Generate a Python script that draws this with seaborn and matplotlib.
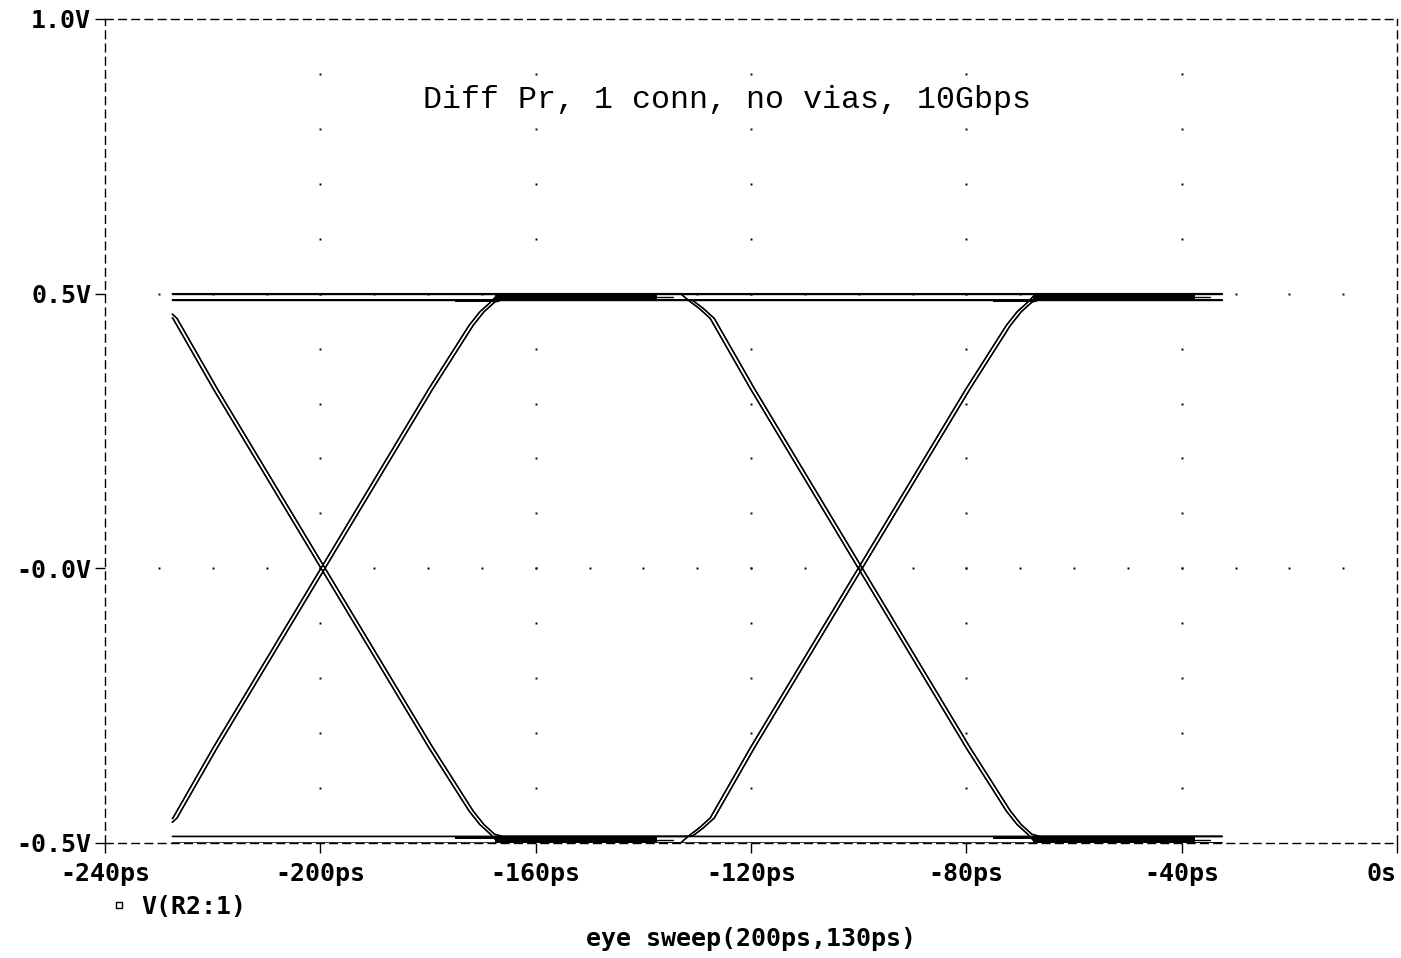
import numpy as np
import pandas as pd
import matplotlib
matplotlib.use("Agg")
import matplotlib.pyplot as plt
import seaborn as sns
from matplotlib.lines import Line2D

# Sweep window and bit timing (ps)
sweep_start = -227.5
sweep_end = -32.5
crossings = [-199.5, -99.7]

# Rising edge profile around a crossing: offset (ps) and fraction of the swing
edge_dt = [-33.0, -31.5, -29.5, -27.5, -20.0, -10.0, 0.0, 10.0, 20.0, 27.5, 29.5, 31.5, 33.0]
edge_frac = [0.000, 0.007, 0.022, 0.040, 0.170, 0.335, 0.500, 0.665, 0.830, 0.947, 0.972, 0.990, 1.000]
# Swing used along the edge itself (V)
edge_high = 0.4945
edge_low = -0.4940

# Two overlapping acquisitions: settled levels (V) and timing skew (ps)
high_levels = [0.500, 0.489]
low_levels = [-0.500, -0.488]
skews = [-0.38, 0.38]

# Bit sequences seen in the sweep (before / between / after the crossings)
patterns = ["000", "001", "010", "011", "100", "101", "110", "111"]

# Settled regions where many sweeps pile up (ps)
band_start = [-167.5, -67.6]
band_end = [-137.5, -37.5]
lead_start = [-175.0, -75.0]
tail_end = [-134.5, -34.7]

# Axis ticks and labels
x_ticks = [-240, -200, -160, -120, -80, -40, 0]
x_labels = ["-240ps", "-200ps", "-160ps", "-120ps", "-80ps", "-40ps", "0s"]
y_ticks = [-0.5, 0.0, 0.5, 1.0]
y_labels = ["-0.5V", "-0.0V", "0.5V", "1.0V"]

title = "Diff Pr, 1 conn, no vias, 10Gbps"
x_title = "eye sweep(200ps,130ps)"
trace_name = "V(R2:1)"

# ---- assemble the sweep traces ----
rows = []
trace_id = 0
n_edge = len(edge_dt)
for pat in patterns:
    bits = [int(c) for c in pat]
    for hi, lo, skew in zip(high_levels, low_levels, skews):
        lv = [hi if b else lo for b in bits]
        ts = [sweep_start - 40.0]
        vs = [lv[0]]
        for k, tc in enumerate(crossings):
            a, b = lv[k], lv[k + 1]
            if a != b:
                ea = edge_high if bits[k] else edge_low
                eb = edge_high if bits[k + 1] else edge_low
                for i, (dt, f) in enumerate(zip(edge_dt, edge_frac)):
                    ts.append(tc + dt + skew)
                    if i == 0:
                        vs.append(a)
                    elif i == n_edge - 1:
                        vs.append(b)
                    else:
                        vs.append(ea + (eb - ea) * f)
        ts.append(sweep_end + 40.0)
        vs.append(lv[-1])
        ts = np.array(ts)
        vs = np.array(vs)
        inside = (ts > sweep_start) & (ts < sweep_end)
        t_c = np.concatenate([[sweep_start], ts[inside], [sweep_end]])
        v_c = np.concatenate([[np.interp(sweep_start, ts, vs)], vs[inside],
                              [np.interp(sweep_end, ts, vs)]])
        for t, v in zip(t_c, v_c):
            rows.append({"t": t, "v": v, "trace": trace_id})
        trace_id += 1

df = pd.DataFrame(rows)

# ---- figure ----
sns.set_theme(style="white")
plt.rcParams["font.family"] = ["DejaVu Sans Mono", "DejaVu Sans"]
plt.rcParams["text.color"] = "black"
plt.rcParams["axes.labelcolor"] = "black"
plt.rcParams["xtick.color"] = "black"
plt.rcParams["ytick.color"] = "black"

W, H = 1401, 958
fig = plt.figure(figsize=(W / 100, H / 100), dpi=100)
ax = fig.add_axes([105 / W, 1 - 843 / H, (1397 - 105) / W, (843 - 19) / H])
ax.set_facecolor("white")

sns.lineplot(data=df, x="t", y="v", units="trace", estimator=None, sort=False,
             color="black", linewidth=1.0, legend=False, ax=ax)

# piled-up settled sweeps
for t0, t1, tl, tt in zip(band_start, band_end, lead_start, tail_end):
    ax.fill_between([t0, t1], high_levels[1], high_levels[0], color="black", lw=0)
    ax.fill_between([t0, t1], low_levels[0], low_levels[1], color="black", lw=0)
    ax.fill_between([tl, t0], 0.485, 0.4905, color="black", lw=0)
    ax.fill_between([tl, t0], -0.4935, -0.4875, color="black", lw=0)
    ax.plot([t1, tt], [0.4945, 0.4945], color="black", lw=1.0)
    ax.plot([t1, tt], [-0.4940, -0.4940], color="black", lw=1.0)

# dotted grid
gx = [x for x in x_ticks[1:-1]]
gy = np.round(np.arange(-0.4, 0.95, 0.1), 2)
GX, GY = np.meshgrid(gx, gy)
ax.plot(GX.ravel(), GY.ravel(), ls="none", marker="s", ms=1.4, mew=0, color="black")
hx = np.arange(-230, -5, 10)
for yv in [0.0, 0.5]:
    ax.plot(hx, np.full_like(hx, yv, dtype=float), ls="none", marker="s", ms=1.4,
            mew=0, color="black")

ax.set_xlim(-240, 0)
ax.set_ylim(-0.5, 1.0)

# dashed frame
for side in ["top", "bottom", "left", "right"]:
    sp = ax.spines[side]
    sp.set_visible(True)
    sp.set_color("black")
    sp.set_linewidth(1.0)
    sp.set_linestyle((0, (5.5, 4.0)))

tick_font = dict(family="DejaVu Sans Mono", weight="bold", size=18)
ax.set_xticks(x_ticks)
ax.set_xticklabels(x_labels, fontdict=tick_font)
ax.set_yticks(y_ticks)
ax.set_yticklabels(y_labels, fontdict=tick_font)
ax.tick_params(axis="both", direction="out", length=7, width=1.0, color="black",
               labelcolor="black", bottom=True, left=True, top=False, right=False)
ax.tick_params(axis="x", pad=7)
ax.tick_params(axis="y", pad=3)
ax.get_xticklabels()[-1].set_horizontalalignment("right")

ax.set_xlabel(x_title, fontdict=tick_font)
ax.xaxis.set_label_coords(0.5, (843 - 939) / 824)
ax.xaxis.label.set_verticalalignment("center")
ax.set_ylabel("")

ax.text((727 - 105) / 1292, (843 - 100) / 824, title, transform=ax.transAxes,
        ha="center", va="center", fontsize=22.8, family="Liberation Mono",
        color="black")

handle = Line2D([0], [0], marker="s", ls="none", mfc="white", mec="black",
                ms=5, mew=1.0)
ax.legend(handles=[handle], labels=[trace_name], loc="center left",
          bbox_to_anchor=(111 / W, 1 - 907 / H), bbox_transform=fig.transFigure,
          frameon=False, handlelength=0.6, handletextpad=0.6, borderpad=0,
          borderaxespad=0, labelcolor="black",
          prop=dict(family="DejaVu Sans Mono", weight="bold", size=18))

fig.savefig("out.png", dpi=100, facecolor="white")
